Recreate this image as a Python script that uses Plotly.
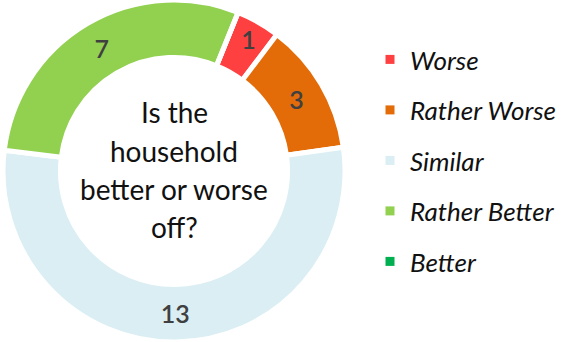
import plotly.graph_objects as go

# Household situation survey
categories = ["Worse", "Rather Worse", "Similar", "Rather Better", "Better"]
counts = [1, 3, 13, 7, 0]
colors = ["#FF4040", "#E36C09", "#DAEEF3", "#92D050", "#00B050"]
question_lines = ["Is the", "household", "better or worse", "off?"]

W, H = 573, 342
FONT = "Lato"

fig = go.Figure()

fig.add_trace(go.Pie(
    labels=categories,
    values=counts,
    sort=False,
    direction="clockwise",
    rotation=22,
    hole=0.664,
    marker=dict(colors=colors, line=dict(color="white", width=5)),
    text=[str(v) if v else "" for v in counts],
    textinfo="text",
    textposition="inside",
    insidetextorientation="horizontal",
    textfont=dict(family=FONT, size=25, color="#404040", weight=600),
    domain=dict(x=[0, 348 / W], y=[0, 1]),
    showlegend=False,
    hoverinfo="label+value",
))

# Legend entries, one per category
for name, col in zip(categories, colors):
    fig.add_trace(go.Scatter(
        x=[None], y=[None], mode="markers", name=name, legendgroup=name,
        marker=dict(symbol="square", size=9, color=col),
    ))

# Question text in the middle of the ring
baselines = [123, 162, 200, 238]
for line, b in zip(question_lines, baselines):
    fig.add_annotation(
        text=line, x=174 / W, y=1 - (b - 11) / H, xref="paper", yref="paper",
        xanchor="center", yanchor="middle", showarrow=False,
        font=dict(family=FONT, size=28, color="#111111"),
    )

fig.update_layout(
    width=W, height=H,
    margin=dict(l=0, r=0, t=0, b=0),
    paper_bgcolor="white", plot_bgcolor="white",
    xaxis=dict(visible=False), yaxis=dict(visible=False),
    uniformtext=dict(minsize=25, mode="show"),
    legend=dict(
        x=370 / W, y=1 - 36 / H, xanchor="left", yanchor="top",
        traceorder="grouped", tracegroupgap=13.7,
        font=dict(family=FONT, size=26, color="#111111", style="italic"),
        bgcolor="rgba(0,0,0,0)",
    ),
)

fig.write_html("out.html")
